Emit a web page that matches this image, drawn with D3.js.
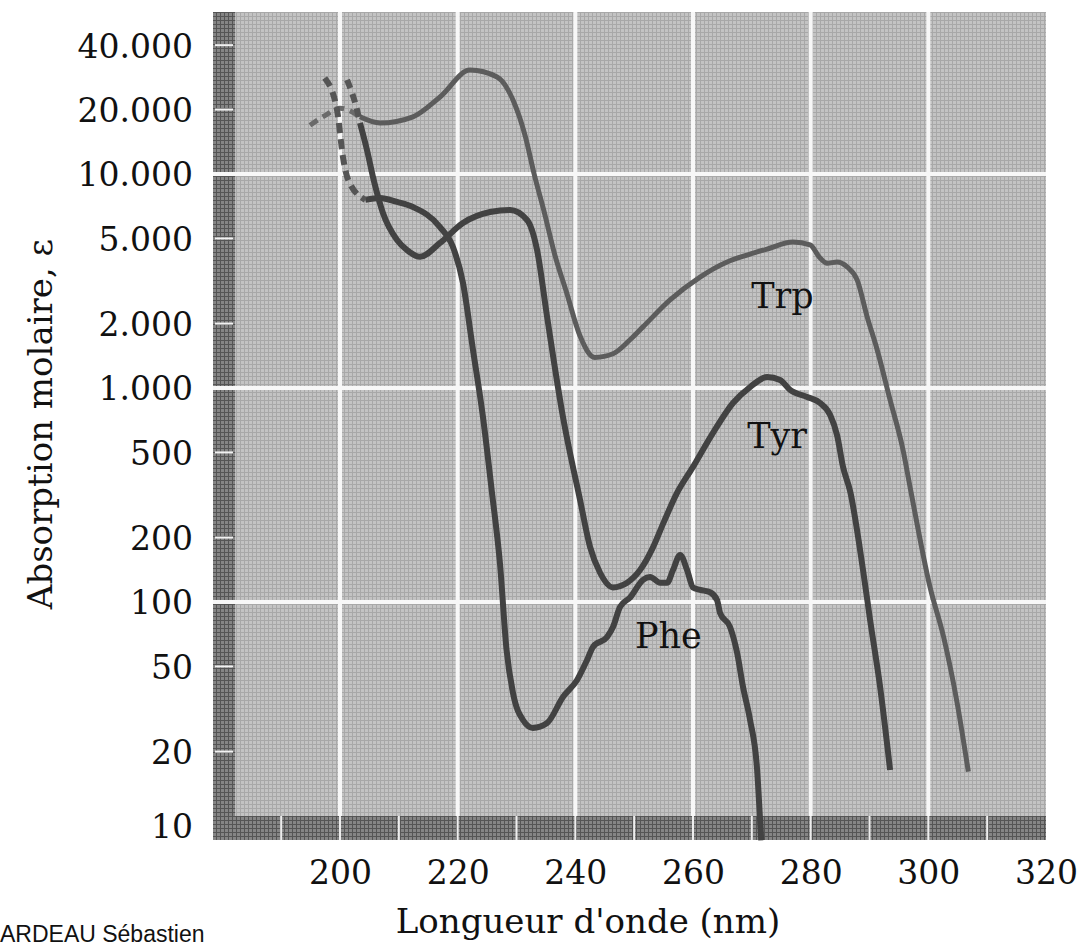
<!DOCTYPE html>
<html>
<head>
<meta charset="utf-8">
<script src="https://cdn.jsdelivr.net/npm/d3@7"></script>
<style>
  html, body { margin: 0; padding: 0; background: #fff; }
  svg { display: block; }
  .tick text { font-family: "DejaVu Serif", serif; font-size: 33px; fill: #111; }
  .axis-title { font-family: "DejaVu Serif", serif; font-size: 34px; fill: #111; }
  .curve-label { font-family: "DejaVu Serif", serif; font-size: 35px; fill: #111; }
  .credit { font-family: "Liberation Sans", Arial, sans-serif; font-size: 23px; fill: #111; }
</style>
</head>
<body>
<svg id="chart" width="1078" height="946"></svg>
<script>
// Axis values
const xTicks = [200, 220, 240, 260, 280, 300, 320];
const xGrid = [200, 220, 240, 260, 280, 300];
const xBandTicks = [190, 200, 210, 220, 230, 240, 250, 260, 270, 280, 290, 300, 310];
const yTicks = [10, 20, 50, 100, 200, 500, 1000, 2000, 5000, 10000, 20000, 40000];
const yGrid = [100, 1000, 10000];

// Spectra: [wavelength nm, molar absorption]
const trpDashed = [[194.9, 16900], [197.5, 18800], [200.0, 20300], [203.4, 18500]];
const trpSolid = [
  [203.4, 18500], [206.8, 17300], [212.4, 18500], [217.0, 22900], [222.1, 30600],
  [226.7, 28400], [229.4, 22200], [231.5, 15000], [233.0, 10000], [234.8, 6500],
  [236.5, 4200], [238.5, 2800], [240.8, 1750], [243.3, 1390], [246.5, 1450],
  [249.3, 1680], [251.5, 1930], [256.1, 2580], [261.2, 3300], [265.8, 3880],
  [269.2, 4180], [272.6, 4460], [277.0, 4810], [279.9, 4660], [281.6, 4050],
  [282.8, 3830], [284.5, 3880], [286.2, 3680], [287.9, 3200], [289.6, 2150],
  [291.3, 1510], [293.5, 880], [295.7, 513], [296.9, 344], [300.3, 117],
  [302.6, 68.6], [304.9, 33.7], [306.8, 16.1]
];
const tyrDashed = [[201.2, 27500], [202.9, 19900], [203.4, 17300]];
const tyrSolid = [
  [203.4, 17300], [204.6, 12900], [205.8, 9200], [207.3, 6580], [209.7, 4920],
  [211.4, 4410], [213.6, 4100], [217.0, 4760], [220.9, 5900], [225.5, 6640],
  [228.9, 6790], [231.8, 6100], [233.5, 4410], [235.2, 2150], [237.9, 732],
  [240.8, 300], [242.5, 181], [244.2, 137], [246.4, 117], [248.8, 123],
  [251.0, 141], [253.2, 180], [255.0, 235], [257.2, 320], [260.0, 428],
  [263.4, 617], [266.8, 851], [269.7, 1010], [272.6, 1125], [274.8, 1090],
  [276.5, 979], [279.4, 908], [281.6, 851], [283.3, 750], [284.5, 600],
  [285.5, 428], [286.7, 330], [288.9, 141], [290.1, 82.5], [291.8, 40.1],
  [293.5, 16.4]
];
const pheDashed = [[197.4, 28100], [199.5, 19900], [200.5, 12000], [201.4, 9370], [204.3, 7570]];
const pheSolid = [
  [204.3, 7570], [206.8, 7730], [209.7, 7400], [212.4, 7010], [217.0, 5650],
  [219.2, 4560], [220.9, 3100], [222.6, 1510], [224.3, 732], [225.8, 330],
  [227.2, 150], [228.3, 60], [229.4, 37.6], [231.1, 28.1], [232.8, 25.8],
  [235.2, 27.2], [237.9, 36], [240.3, 43.2], [242.0, 53.6], [243.0, 61.7],
  [245.4, 68.6], [246.4, 76.4], [247.6, 94.8], [249.3, 105], [251.5, 127],
  [252.7, 131], [254.4, 123], [255.6, 123], [256.6, 141], [257.8, 166],
  [259.0, 141], [260.0, 117], [261.2, 114], [262.9, 111], [264.1, 102],
  [264.6, 88.9], [266.3, 76.4], [267.5, 57.8], [268.5, 40.1], [269.7, 28.1],
  [270.9, 16.4], [271.4, 9.6], [271.6, 7.7]
];

// Curve names and where they are written (data coords)
const curveLabels = [
  { name: "Trp", nm: 275.2, eps: 2370 },
  { name: "Tyr", nm: 274.3, eps: 525 },
  { name: "Phe", nm: 255.8, eps: 61 }
];

const svg = d3.select("#chart");

// Scales
const x = d3.scaleLinear().domain([200, 320]).range([340, 1046]);
const y = d3.scaleLog().domain([10, 10000]).range([816, 174]);

// Frame geometry
const frameLeft = 213;
const bandWidth = 22;
const plotTop = 12;
const plotRight = x(320);
const plotBottom = y(10);
const bandBottom = plotBottom + 24;

// French number format: 40.000
const fr = d3.formatLocale({ decimal: ",", thousands: ".", grouping: [3], currency: ["", " €"] });
const fmt = fr.format(",");

function makePatterns() {
  const defs = svg.append("defs");

  const p = defs.append("pattern")
    .attr("id", "stipple")
    .attr("width", 4).attr("height", 4)
    .attr("patternUnits", "userSpaceOnUse");
  p.append("rect").attr("width", 4).attr("height", 4).attr("fill", "#c3c3c3");
  p.append("rect").attr("width", 4).attr("height", 1).attr("fill", "#a8a8a8");
  p.append("rect").attr("width", 1).attr("height", 4).attr("fill", "#a8a8a8");

  const b = defs.append("pattern")
    .attr("id", "bandtex")
    .attr("width", 4).attr("height", 4)
    .attr("patternUnits", "userSpaceOnUse");
  b.append("rect").attr("width", 4).attr("height", 4).attr("fill", "#858585");
  b.append("rect").attr("width", 4).attr("height", 1).attr("fill", "#555555");
  b.append("rect").attr("width", 1).attr("height", 4).attr("fill", "#555555");
}

// Background, dark L-shaped band and grid
function drawFrame() {
  svg.append("rect")
    .attr("x", frameLeft).attr("y", plotTop)
    .attr("width", plotRight - frameLeft).attr("height", bandBottom - plotTop)
    .attr("fill", "url(#stipple)");

  // left band
  svg.append("rect")
    .attr("x", frameLeft).attr("y", plotTop)
    .attr("width", bandWidth).attr("height", bandBottom - plotTop)
    .attr("fill", "url(#bandtex)");

  // bottom band
  svg.append("rect")
    .attr("x", frameLeft).attr("y", plotBottom)
    .attr("width", plotRight - frameLeft).attr("height", bandBottom - plotBottom)
    .attr("fill", "url(#bandtex)");

  // small white ticks in the bands
  svg.selectAll("line.ytick")
    .data(yTicks.filter(v => v > 10))
    .enter()
    .append("line")
    .attr("x1", frameLeft + 2).attr("x2", frameLeft + bandWidth - 2)
    .attr("y1", d => y(d)).attr("y2", d => y(d))
    .attr("stroke", "#f2f2f2").attr("stroke-width", 2);

  svg.selectAll("line.xtick")
    .data(xBandTicks)
    .enter()
    .append("line")
    .attr("x1", d => x(d)).attr("x2", d => x(d))
    .attr("y1", plotBottom).attr("y2", bandBottom)
    .attr("stroke", "#eeeeee").attr("stroke-width", 2);

  // grid lines
  svg.selectAll("line.vgrid")
    .data(xGrid)
    .enter()
    .append("line")
    .attr("x1", d => x(d)).attr("x2", d => x(d))
    .attr("y1", plotTop).attr("y2", plotBottom)
    .attr("stroke", "#f7f7f7").attr("stroke-width", 4);

  svg.selectAll("line.hgrid")
    .data(yGrid)
    .enter()
    .append("line")
    .attr("x1", frameLeft).attr("x2", plotRight)
    .attr("y1", d => y(d)).attr("y2", d => y(d))
    .attr("stroke", "#f7f7f7").attr("stroke-width", 4);
}

function drawAxes() {
  const yAxis = svg.append("g")
    .attr("transform", `translate(${frameLeft},0)`)
    .call(d3.axisLeft(y).tickValues(yTicks).tickFormat(fmt).tickSize(0).tickPadding(20));
  yAxis.select(".domain").remove();
  yAxis.selectAll("text").attr("dy", "0.36em");
  // the "10" sits in the middle of the dark band
  yAxis.selectAll(".tick").filter(d => d === 10).select("text").attr("dy", "0.66em");

  const xAxis = svg.append("g")
    .attr("transform", `translate(0,${bandBottom})`)
    .call(d3.axisBottom(x).tickValues(xTicks).tickFormat(d3.format("d")).tickSize(0).tickPadding(21));
  xAxis.select(".domain").remove();

  svg.append("text")
    .attr("class", "axis-title")
    .attr("x", 588).attr("y", 933)
    .attr("text-anchor", "middle")
    .text("Longueur d'onde (nm)");

  svg.append("text")
    .attr("class", "axis-title")
    .attr("transform", "translate(52,424) rotate(-90)")
    .attr("text-anchor", "middle")
    .text("Absorption molaire, ε");

  svg.append("text")
    .attr("class", "credit")
    .attr("x", 0).attr("y", 942)
    .text("ARDEAU Sébastien");
}

function drawCurves() {
  const line = d3.line()
    .x(d => x(d[0]))
    .y(d => y(d[1]))
    .curve(d3.curveMonotoneX);

  const curves = [
    { pts: trpSolid, color: "#5c5c5c", w: 5, dash: null },
    { pts: tyrSolid, color: "#424242", w: 6, dash: null },
    { pts: pheSolid, color: "#424242", w: 6, dash: null },
    { pts: trpDashed, color: "#6a6a6a", w: 5, dash: "9,6" },
    { pts: tyrDashed, color: "#555", w: 6, dash: "9,6" },
    { pts: pheDashed, color: "#555", w: 6, dash: "10,6" }
  ];

  svg.selectAll("path.curve")
    .data(curves)
    .enter()
    .append("path")
    .attr("class", "curve")
    .attr("d", d => line(d.pts))
    .attr("fill", "none")
    .attr("stroke", d => d.color)
    .attr("stroke-width", d => d.w)
    .attr("stroke-linejoin", "round")
    .attr("stroke-dasharray", d => d.dash);

  svg.selectAll("text.curve-label")
    .data(curveLabels)
    .enter()
    .append("text")
    .attr("class", "curve-label")
    .attr("x", d => x(d.nm))
    .attr("y", d => y(d.eps))
    .attr("text-anchor", "middle")
    .text(d => d.name);
}

makePatterns();
drawFrame();
drawCurves();
drawAxes();
</script>
</body>
</html>
